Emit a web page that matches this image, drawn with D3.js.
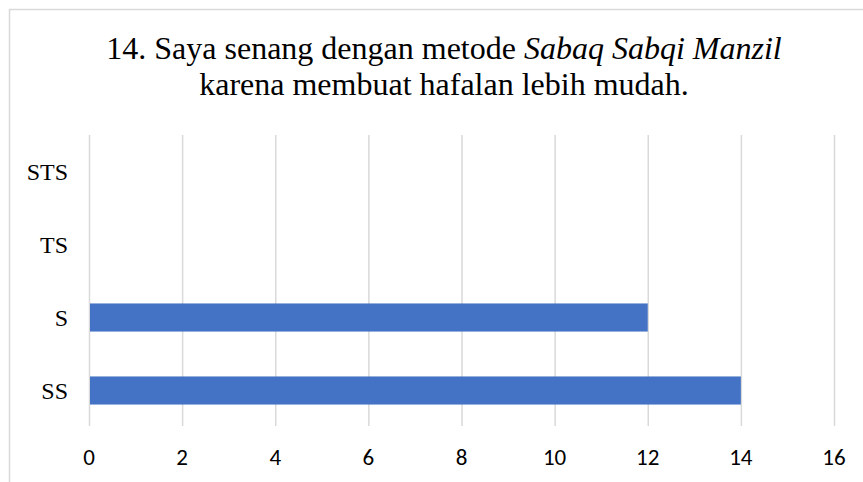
<!DOCTYPE html>
<html><head><meta charset="utf-8">
<script src="https://cdn.jsdelivr.net/npm/d3@7"></script>
<style>html,body{margin:0;padding:0;background:#fff;}</style>
</head><body>
<script>
const categories = ["STS", "TS", "S", "SS"];
const values = [0, 0, 12, 14];
const xTicks = [0, 2, 4, 6, 8, 10, 12, 14, 16];
const titleLine1 = ["14. Saya senang dengan metode ", "Sabaq Sabqi Manzil"];
const titleLine2 = "karena membuat hafalan lebih mudah.";

const W = 863, H = 482;
const serif = "'Liberation Serif', 'Times New Roman', serif";
const svg = d3.select("body").append("svg").attr("width", W).attr("height", H);

svg.append("rect").attr("x", 9.5).attr("y", 9.5).attr("width", W).attr("height", H)
  .attr("fill", "#fff").attr("stroke", "#d9d9d9").attr("stroke-width", 1.5);

const x = d3.scaleLinear().domain([0, 16]).range([89, 834]);
const y = d3.scaleBand().domain(categories).range([135, 427]).paddingInner(0.615).paddingOuter(0.3075);

const t1 = svg.append("text").attr("x", 444).attr("y", 59).attr("text-anchor", "middle")
  .style("font-family", serif).style("font-size", "32px").attr("fill", "#000");
t1.append("tspan").text(titleLine1[0]);
t1.append("tspan").style("font-style", "italic").text(titleLine1[1]);
svg.append("text").attr("x", 444).attr("y", 95).attr("text-anchor", "middle")
  .style("font-family", serif).style("font-size", "32px").attr("fill", "#000")
  .text(titleLine2);

svg.append("g").selectAll("line").data(xTicks).join("line")
  .attr("x1", d => x(d) + 0.5).attr("x2", d => x(d) + 0.5)
  .attr("y1", 135).attr("y2", 426)
  .attr("stroke", "#d9d9d9").attr("stroke-width", 1.5);

svg.append("g").selectAll("rect").data(categories.map((c, i) => ({c, v: values[i]})).filter(d => d.v > 0))
  .join("rect")
  .attr("x", x(0) + 1).attr("y", d => y(d.c))
  .attr("width", d => x(d.v) - x(0) - 1).attr("height", y.bandwidth())
  .attr("fill", "#4472c4");

svg.append("g").selectAll("text").data(categories).join("text")
  .attr("x", 68).attr("y", d => y(d) + y.bandwidth() / 2 + 8)
  .attr("text-anchor", "end")
  .style("font-family", serif).style("font-size", "24px").attr("fill", "#000")
  .text(d => d);

svg.append("g").selectAll("text").data(xTicks).join("text")
  .attr("x", d => x(d)).attr("y", 465).attr("text-anchor", "middle")
  .style("font-family", "Carlito, Calibri, 'Liberation Sans', sans-serif").style("font-size", "23px").attr("fill", "#000")
  .text(d => d);
</script>
</body></html>
